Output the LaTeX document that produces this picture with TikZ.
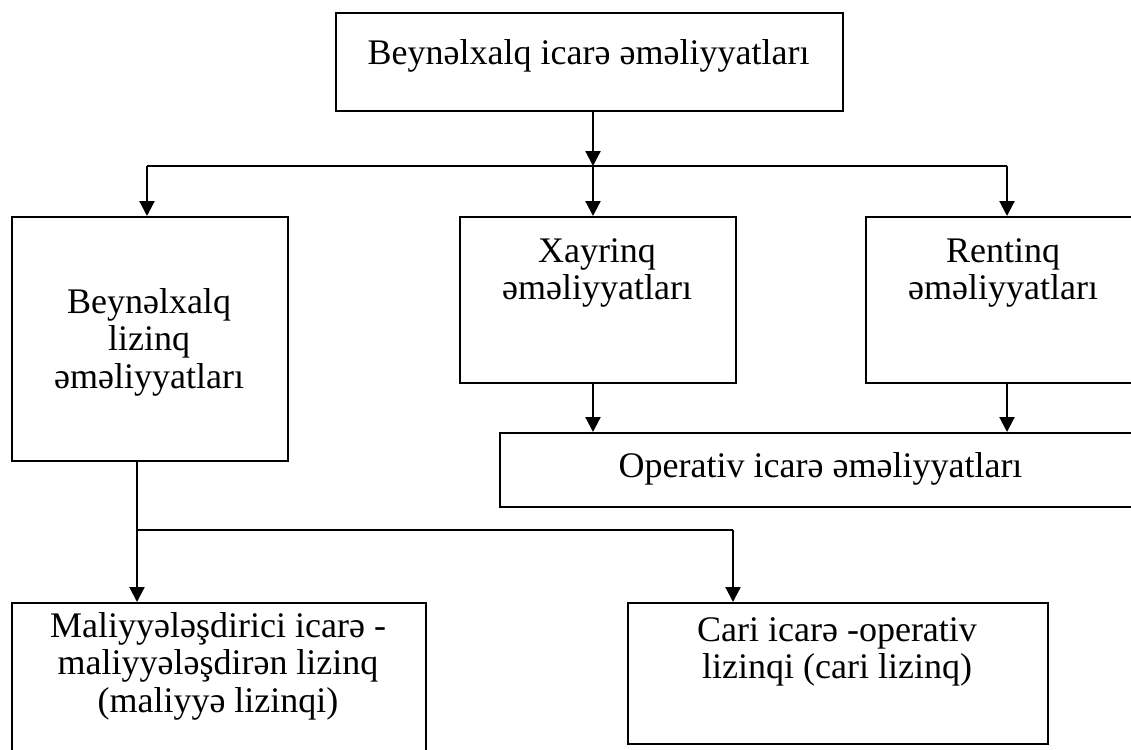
\documentclass[tikz,border=0pt]{standalone}
\usepackage{fontspec}
\setmainfont{Liberation Serif}
\usetikzlibrary{arrows.meta}
\newcommand\boxlines[1]{\begin{tabular}[t]{@{}c@{}}#1\end{tabular}}
\begin{document}
\begin{tikzpicture}[x=1pt,y=-1pt,
  font=\fontsize{36}{37.5}\selectfont,
  frame/.style={draw,line width=1.6pt,inner sep=0pt,anchor=north west},
  caption/.style={inner sep=0pt,anchor=base},
  feed/.style={line width=2.2pt,-{Triangle[width=15pt,length=15pt]}},
  bus/.style={line width=1.5pt}]
\clip (0,0) rectangle (1131,749);
\fill[white] (0,0) rectangle (1131,749);

% frames
\node[frame,minimum width=507pt,minimum height=98pt]  (top)   at (335,12)  {};
\node[frame,minimum width=276pt,minimum height=244pt] (lease) at (11,216)  {};
\node[frame,minimum width=276pt,minimum height=166pt] (hire)  at (459,216) {};
\node[frame,minimum width=282pt,minimum height=166pt] (rent)  at (865,216) {};
\node[frame,minimum width=646pt,minimum height=74pt]  (oper)  at (499,432) {};
\node[frame,minimum width=414pt,minimum height=170pt] (fin)   at (11,602)  {};
\node[frame,minimum width=420pt,minimum height=141pt] (cur)   at (627,602) {};

% captions
\node[caption] (topT)   at (588.5,65) {\boxlines{Beynəlxalq icarə əməliyyatları}};
\node[caption] (leaseT) at (149,313)  {\boxlines{Beynəlxalq\\lizinq\\əməliyyatları}};
\node[caption] (hireT)  at (597,262)  {\boxlines{Xayrinq\\əməliyyatları}};
\node[caption] (rentT)  at (1003,262) {\boxlines{Rentinq\\əməliyyatları}};
\node[caption] (operT)  at (820.5,477) {\boxlines{Operativ icarə əməliyyatları}};
\node[caption] (finT)   at (218,637)  {\boxlines{Maliyyələşdirici icarə -\\maliyyələşdirən lizinq\\(maliyyə lizinqi)}};
\node[caption] (curT)   at (837,641)  {\boxlines{Cari icarə -operativ\\lizinqi (cari lizinq)}};

% junction points
\coordinate (busM) at (593,166);
\coordinate (busL) at (147,166);
\coordinate (busR) at (1007,166);
\coordinate (splitL) at (137,530);
\coordinate (splitR) at (733,530);

% upper distribution
\draw[feed] (top.south -| busM) -- (busM);
\draw[bus] (busL) -- (busR);
\draw[feed] (busL) -- (busL |- lease.north);
\draw[feed] (busM) -- (busM |- hire.north);
\draw[feed] (busR) -- (busR |- rent.north);

% into operative leasing
\draw[feed] (hire.south -| busM) -- (busM |- oper.north);
\draw[feed] (rent.south -| busR) -- (busR |- oper.north);

% lower distribution
\draw[feed] (lease.south -| splitL) -- (splitL |- fin.north);
\draw[bus] (splitL) -- (splitR);
\draw[feed] (splitR) -- (splitR |- cur.north);
\end{tikzpicture}
\end{document}
